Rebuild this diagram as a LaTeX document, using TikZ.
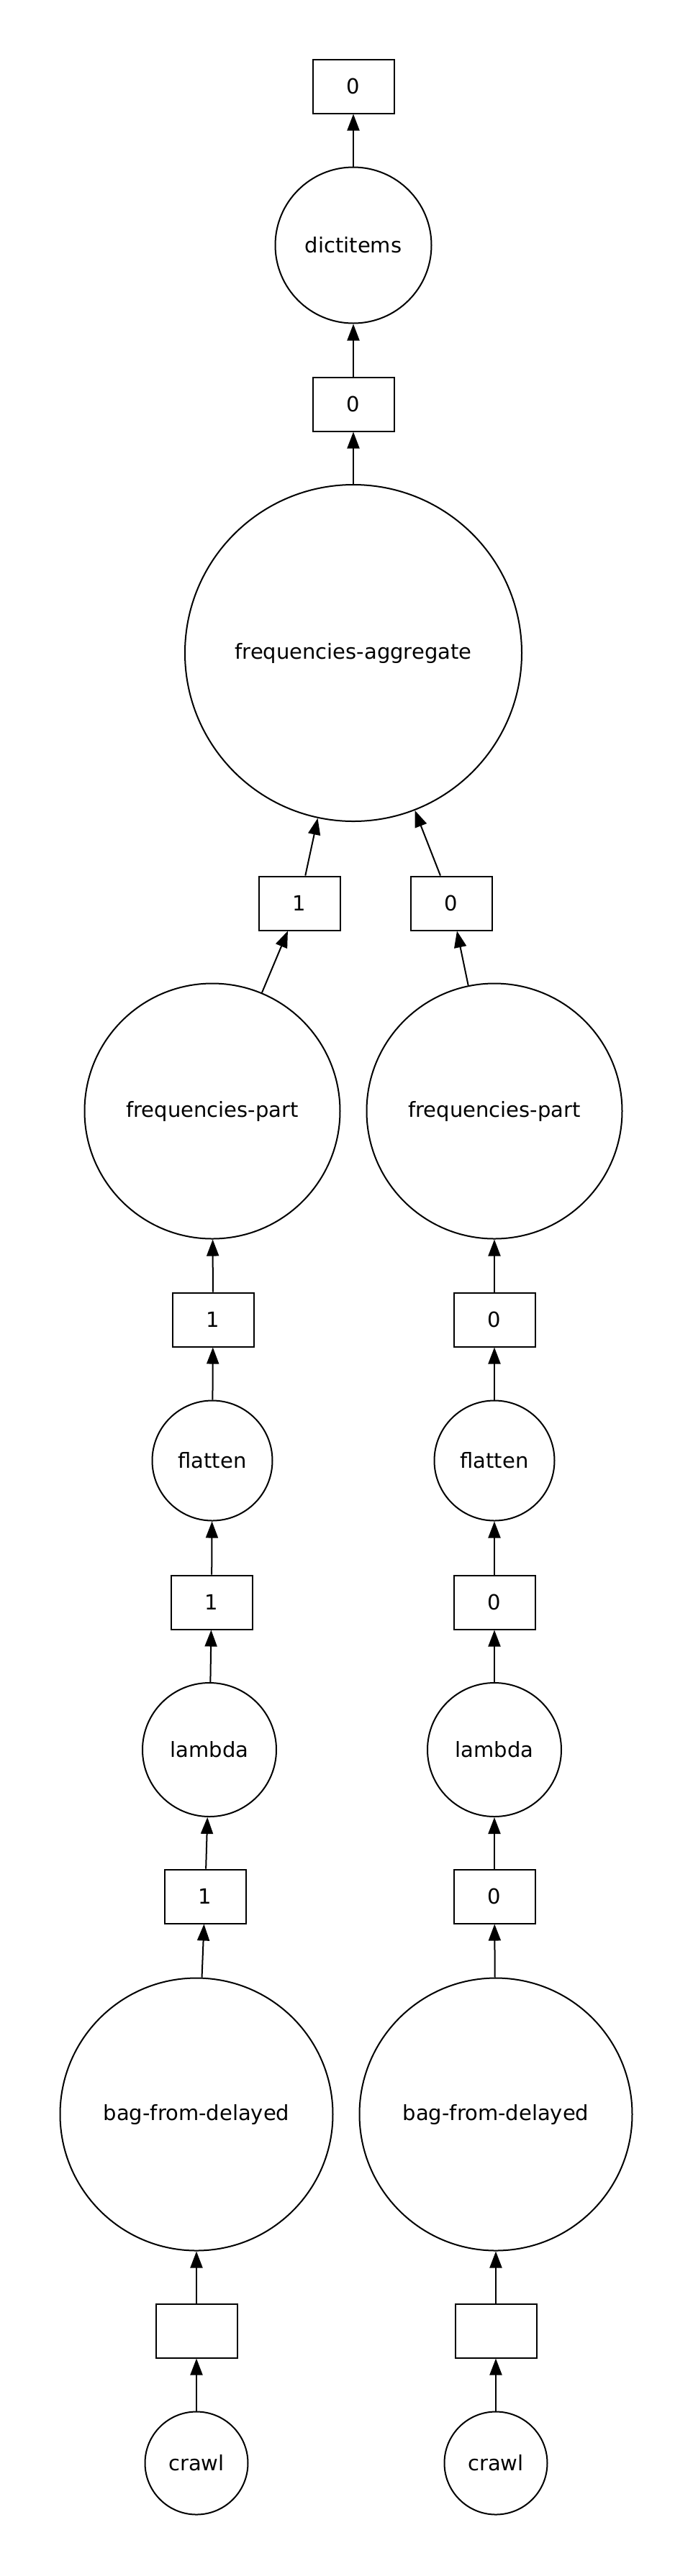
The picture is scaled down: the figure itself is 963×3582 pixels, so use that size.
\documentclass[tikz,border=0pt]{standalone}
\usepackage{fontspec}
\setmainfont{DejaVu Sans}
\usetikzlibrary{arrows.meta}

\begin{document}
\begin{tikzpicture}[x=1pt, y=-1pt, line width=2pt,
    task/.style={draw, circle, inner sep=0pt, minimum size=#1},
    part/.style={draw, rectangle, inner sep=0pt, minimum width=113pt, minimum height=75pt},
    dep/.style={-{Triangle[length=23pt, width=17pt]}},
    every node/.style={font=\fontsize{29}{35}\selectfont}]
    \useasboundingbox (0,0) rectangle (963,3582);

    % Top of the graph
    \node[part] (out) at (491,120) {0};
    \node[task=217pt] (dict) at (491,341) {dictitems};
    \node[part] (aggout) at (491,562) {0};
    \node[task=468pt] (agg) at (491,908) {frequencies-aggregate};
    \node[part] (aggin1) at (416,1256) {1};
    \node[part] (aggin0) at (627,1256) {0};

    % Left branch
    \node[task=355pt] (partL) at (295,1545) {frequencies-part};
    \node[part] (partinL) at (296,1835) {1};
    \node[task=167pt] (flatL) at (295,2031) {flatten};
    \node[part] (flatinL) at (294,2228) {1};
    \node[task=186pt] (lamL) at (291,2433) {lambda};
    \node[part] (laminL) at (285,2637) {1};
    \node[task=379pt] (bagL) at (273,2940) {bag-from-delayed};
    \node[part] (baginL) at (273,3241) {};
    \node[task=143pt] (crawlL) at (273,3425) {crawl};

    % Right branch
    \node[task=355pt] (partR) at (687,1545) {frequencies-part};
    \node[part] (partinR) at (687,1835) {0};
    \node[task=167pt] (flatR) at (687,2031) {flatten};
    \node[part] (flatinR) at (687,2228) {0};
    \node[task=186pt] (lamR) at (687,2433) {lambda};
    \node[part] (laminR) at (687,2637) {0};
    \node[task=379pt] (bagR) at (689,2940) {bag-from-delayed};
    \node[part] (baginR) at (689,3241) {};
    \node[task=143pt] (crawlR) at (689,3425) {crawl};

    % Edges
    \draw[dep] (dict) -- (out);
    \draw[dep] (aggout) -- (dict);
    \draw[dep] (agg) -- (aggout);
    \draw[dep] (aggin1) -- (agg);
    \draw[dep] (aggin0) -- (agg);
    \draw[dep] (partL) -- (aggin1);
    \draw[dep] (partR) -- (aggin0);

    \draw[dep] (partinL) -- (partL);
    \draw[dep] (flatL) -- (partinL);
    \draw[dep] (flatinL) -- (flatL);
    \draw[dep] (lamL) -- (flatinL);
    \draw[dep] (laminL) -- (lamL);
    \draw[dep] (bagL) -- (laminL);
    \draw[dep] (baginL) -- (bagL);
    \draw[dep] (crawlL) -- (baginL);

    \draw[dep] (partinR) -- (partR);
    \draw[dep] (flatR) -- (partinR);
    \draw[dep] (flatinR) -- (flatR);
    \draw[dep] (lamR) -- (flatinR);
    \draw[dep] (laminR) -- (lamR);
    \draw[dep] (bagR) -- (laminR);
    \draw[dep] (baginR) -- (bagR);
    \draw[dep] (crawlR) -- (baginR);
\end{tikzpicture}
\end{document}
